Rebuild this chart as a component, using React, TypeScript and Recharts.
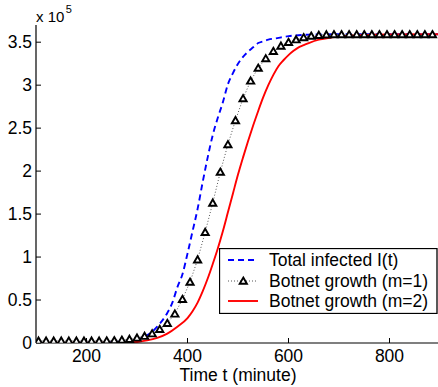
import React from 'react';
import { LineChart, Line, XAxis, YAxis } from 'recharts';

// Values in units of 1e5 (axis multiplier "x 10^5")
const totalT = [100, 200, 250, 270, 280, 290, 300, 310, 320, 330, 340, 350, 360, 370, 380, 390, 400, 410, 420, 430, 440, 450, 460, 470, 480, 490, 500, 510, 520, 530, 540, 550, 560, 575, 600, 630, 660, 700, 900];
const totalV = [0, 0.003, 0.01, 0.018, 0.025, 0.032, 0.04, 0.06, 0.09, 0.13, 0.19, 0.26, 0.35, 0.47, 0.65, 0.8, 1.04, 1.3, 1.56, 1.87, 2.16, 2.42, 2.62, 2.8, 3.01, 3.14, 3.25, 3.33, 3.39, 3.44, 3.49, 3.51, 3.53, 3.545, 3.57, 3.585, 3.59, 3.592, 3.593];

const m1T = [105, 120, 135, 150, 165, 180, 195, 210, 225, 240, 255, 270, 285, 300, 315, 330, 345, 360, 375, 390, 405, 420, 435, 450, 465, 480, 495, 510, 525, 540, 555, 570, 585, 600, 615, 630, 645, 660, 675, 690, 705, 720, 735, 750, 765, 780, 795, 810, 825, 840, 855, 870, 885];
const m1V = [0.025, 0.025, 0.025, 0.025, 0.025, 0.025, 0.025, 0.025, 0.025, 0.027, 0.03, 0.035, 0.045, 0.06, 0.08, 0.11, 0.16, 0.23, 0.34, 0.51, 0.71, 0.97, 1.29, 1.63, 1.99, 2.31, 2.59, 2.845, 3.05, 3.2, 3.31, 3.395, 3.457, 3.5, 3.53, 3.555, 3.572, 3.582, 3.588, 3.59, 3.59, 3.59, 3.59, 3.59, 3.59, 3.59, 3.59, 3.59, 3.59, 3.59, 3.59, 3.59, 3.59];

const m2T = [100, 250, 300, 320, 340, 360, 380, 400, 410, 420, 430, 440, 450, 460, 470, 480, 490, 500, 510, 520, 530, 540, 550, 560, 570, 580, 590, 600, 610, 620, 630, 640, 660, 680, 700, 740, 800, 900];
const m2V = [0, 0.004, 0.012, 0.03, 0.06, 0.11, 0.19, 0.29, 0.37, 0.47, 0.6, 0.75, 0.92, 1.1, 1.3, 1.52, 1.74, 1.96, 2.16, 2.35, 2.53, 2.7, 2.86, 3.0, 3.12, 3.22, 3.29, 3.35, 3.4, 3.44, 3.465, 3.49, 3.53, 3.55, 3.565, 3.58, 3.59, 3.593];

const xTicks = [200, 400, 600, 800];
const yTicks = [0, 0.5, 1, 1.5, 2, 2.5, 3, 3.5];
const xDomain = [100, 900];
const yDomain = [0, 3.7];

const legendLabels = ['Total infected I(t)', 'Botnet growth (m=1)', 'Botnet growth (m=2)'];
const xLabel = 'Time t (minute)';

const totalData = totalT.map((t, i) => ({ t, v: totalV[i] }));
const m1Data = m1T.map((t, i) => ({ t, v: m1V[i] }));
const m2Data = m2T.map((t, i) => ({ t, v: m2V[i] }));

const FONT = '"Liberation Sans", Arial, Helvetica, sans-serif';

const triPath = (cx: number, cy: number) =>
  `M${cx},${cy - 3.4} L${cx + 3.6},${cy + 2.8} L${cx - 3.6},${cy + 2.8} Z`;

const Triangle = (props: any) => {
  const { cx, cy, index } = props;
  if (cx == null || cy == null) return <g key={`t${index}`} />;
  return <path key={`t${index}`} d={triPath(cx, cy)} fill="#fff" stroke="#000" strokeWidth={1.9} strokeLinejoin="miter" />;
};

const tickStyle = { fontSize: 17.5, fill: '#000', fontFamily: FONT };

export default function App() {
  const rows = [12, 33, 53];
  return (
    <div style={{ position: 'absolute', left: 0, top: 0, width: 438, height: 387, overflow: 'hidden', background: '#fff' }}>
      <LineChart width={442} height={387} margin={{ top: 25, right: 2, left: 0, bottom: 0 }}>
        <XAxis
          dataKey="t"
          type="number"
          domain={xDomain}
          ticks={xTicks}
          allowDataOverflow
          height={44}
          tickSize={-5}
          tickMargin={12}
          tick={tickStyle}
          axisLine={{ stroke: '#000', strokeWidth: 1.2 }}
          tickLine={{ stroke: '#000' }}
          label={{ value: xLabel, position: 'insideBottom', offset: 6, style: { fontSize: 17.5, fill: '#000', fontFamily: FONT } }}
        />
        <XAxis
          xAxisId="top"
          orientation="top"
          dataKey="t"
          type="number"
          domain={xDomain}
          ticks={xTicks}
          allowDataOverflow
          height={0}
          tickSize={-5}
          tick={false}
          axisLine={{ stroke: '#000', strokeWidth: 1.2 }}
          tickLine={{ stroke: '#000' }}
        />
        <YAxis
          type="number"
          domain={yDomain}
          ticks={yTicks}
          allowDataOverflow
          width={36}
          tickSize={-5}
          tickMargin={9}
          tick={tickStyle}
          axisLine={{ stroke: '#000', strokeWidth: 1.2 }}
          tickLine={{ stroke: '#000' }}
        />
        <YAxis
          yAxisId="r"
          orientation="right"
          type="number"
          domain={yDomain}
          ticks={yTicks}
          allowDataOverflow
          width={0}
          tickSize={-5}
          tick={false}
          axisLine={{ stroke: '#000', strokeWidth: 1.2 }}
          tickLine={{ stroke: '#000' }}
        />
        <Line
          data={totalData}
          dataKey="v"
          type="monotone"
          stroke="#0000ff"
          strokeWidth={1.9}
          strokeDasharray="6 4"
          dot={false}
          isAnimationActive={false}
        />
        <Line
          data={m1Data}
          dataKey="v"
          type="linear"
          stroke="#555"
          strokeWidth={1}
          strokeDasharray="1 2"
          dot={Triangle}
          activeDot={false}
          isAnimationActive={false}
        />
        <Line
          data={m2Data}
          dataKey="v"
          type="monotone"
          stroke="#ff0000"
          strokeWidth={1.9}
          dot={false}
          isAnimationActive={false}
        />
      </LineChart>
      <svg style={{ position: 'absolute', left: 0, top: 0 }} width={120} height={26}>
        <text x={36} y={21.7} fontSize={15} fontFamily={FONT} fill="#000">
          x 10<tspan dx={1.5} dy={-8.5} fontSize={11}>5</tspan>
        </text>
      </svg>
      <svg style={{ position: 'absolute', left: 219, top: 248 }} width={219} height={66}>
        <rect x={0.5} y={0.5} width={217.5} height={65} fill="#fff" stroke="#000" strokeWidth={1.3} />
        <line x1={9} x2={39} y1={rows[0]} y2={rows[0]} stroke="#0000ff" strokeWidth={1.9} strokeDasharray="6 4" />
        <line x1={9} x2={39} y1={rows[1]} y2={rows[1]} stroke="#555" strokeWidth={1} strokeDasharray="1 2" />
        <path d={triPath(24.3, rows[1])} fill="#fff" stroke="#000" strokeWidth={1.9} />
        <line x1={9} x2={39} y1={rows[2]} y2={rows[2]} stroke="#ff0000" strokeWidth={1.9} />
        {legendLabels.map((l, i) => (
          <text key={l} x={50} y={rows[i] + 6.3} fontSize={17.5} fontFamily={FONT} fill="#000">{l}</text>
        ))}
      </svg>
    </div>
  );
}
